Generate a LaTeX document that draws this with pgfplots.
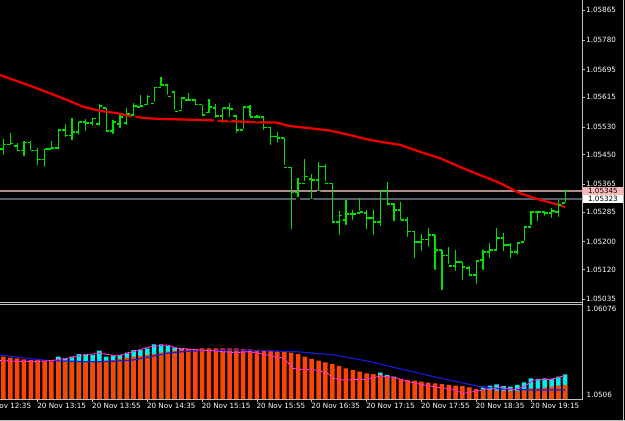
\documentclass[border=0pt]{standalone}
\usepackage{pgfplots}
\pgfplotsset{compat=1.18}
\usepackage{pgfplotstable}
\usepackage{fontspec}
\setmainfont{DejaVu Sans}
\definecolor{barg}{RGB}{0,225,0}
\definecolor{mared}{RGB}{235,0,0}
\definecolor{ored}{RGB}{255,69,0}
\definecolor{aqua}{RGB}{0,240,240}
\definecolor{mtblue}{RGB}{25,25,210}
\definecolor{mtmag}{RGB}{255,0,255}
\definecolor{hlpink}{RGB}{175,140,140}
\definecolor{hlgray}{RGB}{85,95,105}
\definecolor{frame}{RGB}{190,190,190}
\definecolor{pinkbox}{RGB}{250,185,185}
\pgfdeclareplotmark{otick}{\pgfpathmoveto{\pgfqpoint{-3pt}{0pt}}\pgfpathlineto{\pgfqpoint{0pt}{0pt}}\pgfusepathqstroke}
\pgfdeclareplotmark{ctick}{\pgfpathmoveto{\pgfqpoint{0pt}{0pt}}\pgfpathlineto{\pgfqpoint{3pt}{0pt}}\pgfusepathqstroke}
\newcommand{\lbl}{\fontsize{7.2}{8.6}\selectfont}

\pgfplotstableread{
i O H L C
0 1.05466 1.05495 1.05443 1.05478
1 1.05478 1.05512 1.05472 1.05483
2 1.05475 1.05483 1.05455 1.05463
3 1.05463 1.05489 1.05440 1.05486
4 1.05486 1.05489 1.05458 1.05463
5 1.05463 1.05469 1.05414 1.05437
6 1.05437 1.05466 1.05409 1.05466
7 1.05466 1.05489 1.05460 1.05469
8 1.05469 1.05521 1.05458 1.05521
9 1.05521 1.05538 1.05495 1.05506
10 1.05504 1.05555 1.05486 1.05515
11 1.05515 1.05544 1.05501 1.05544
12 1.05544 1.05552 1.05512 1.05541
13 1.05541 1.05555 1.05527 1.05555
14 1.05538 1.05596 1.05527 1.05590
15 1.05584 1.05584 1.05515 1.05518
16 1.05518 1.05550 1.05504 1.05544
17 1.05538 1.05564 1.05521 1.05558
18 1.05541 1.05584 1.05529 1.05567
19 1.05564 1.05598 1.05555 1.05590
20 1.05587 1.05621 1.05584 1.05590
21 1.05593 1.05621 1.05587 1.05616
22 1.05598 1.05644 1.05596 1.05644
23 1.05644 1.05673 1.05642 1.05650
24 1.05650 1.05650 1.05616 1.05616
25 1.05630 1.05633 1.05573 1.05573
26 1.05578 1.05616 1.05575 1.05613
27 1.05607 1.05627 1.05598 1.05607
28 1.05607 1.05610 1.05587 1.05593
29 1.05593 1.05593 1.05558 1.05564
30 1.05570 1.05610 1.05564 1.05587
31 1.05584 1.05596 1.05550 1.05561
32 1.05561 1.05584 1.05535 1.05584
33 1.05584 1.05598 1.05552 1.05581
34 1.05561 1.05564 1.05506 1.05521
35 1.05521 1.05590 1.05518 1.05587
36 1.05587 1.05593 1.05555 1.05558
37 1.05558 1.05564 1.05550 1.05558
38 1.05558 1.05558 1.05515 1.05527
39 1.05527 1.05529 1.05472 1.05501
40 1.05501 1.05515 1.05478 1.05498
41 1.05498 1.05498 1.05414 1.05414
42 1.05414 1.05414 1.05230 1.05340
43 1.05340 1.05383 1.05322 1.05368
44 1.05368 1.05437 1.05368 1.05386
45 1.05380 1.05394 1.05317 1.05377
46 1.05377 1.05429 1.05340 1.05417
47 1.05417 1.05423 1.05368 1.05368
48 1.05368 1.05368 1.05253 1.05256
49 1.05256 1.05288 1.05213 1.05276
50 1.05262 1.05320 1.05242 1.05279
51 1.05279 1.05291 1.05256 1.05279
52 1.05282 1.05325 1.05282 1.05285
53 1.05282 1.05291 1.05230 1.05268
54 1.05268 1.05291 1.05213 1.05256
55 1.05256 1.05348 1.05239 1.05348
56 1.05348 1.05371 1.05297 1.05308
57 1.05308 1.05311 1.05253 1.05291
58 1.05291 1.05314 1.05256 1.05262
59 1.05262 1.05271 1.05207 1.05228
60 1.05228 1.05228 1.05147 1.05199
61 1.05199 1.05222 1.05167 1.05205
62 1.05205 1.05239 1.05179 1.05219
63 1.05219 1.05219 1.05113 1.05176
64 1.05176 1.05176 1.05055 1.05159
65 1.05159 1.05184 1.05130 1.05130
66 1.05130 1.05176 1.05110 1.05141
67 1.05141 1.05141 1.05084 1.05127
68 1.05124 1.05130 1.05098 1.05104
69 1.05104 1.05147 1.05072 1.05144
70 1.05147 1.05176 1.05113 1.05170
71 1.05170 1.05196 1.05147 1.05176
72 1.05176 1.05239 1.05170 1.05210
73 1.05210 1.05225 1.05167 1.05190
74 1.05190 1.05196 1.05147 1.05170
75 1.05170 1.05199 1.05156 1.05196
76 1.05199 1.05242 1.05196 1.05242
77 1.05242 1.05288 1.05242 1.05285
78 1.05285 1.05288 1.05253 1.05285
79 1.05285 1.05288 1.05268 1.05282
80 1.05282 1.05297 1.05262 1.05288
81 1.05285 1.05320 1.05265 1.05305
82 1.05311 1.05348 1.05308 1.05345
}\bars

\pgfplotstableread{
i v
-0.5 1.05679
4.3 1.05645
6.8 1.05626
9.3 1.05607
11.6 1.05588
14.1 1.05576
16.6 1.05569
18.9 1.05559
21.4 1.05554
23.9 1.05552
28.7 1.05550
30.9 1.05548
34.5 1.05545
37.4 1.05543
39.9 1.05542
41.8 1.05532
44.7 1.05526
47.7 1.05519
50.6 1.05506
53.5 1.05492
55 1.05487
57.9 1.05478
60.8 1.05458
63.7 1.05440
66.6 1.05415
69.6 1.05391
72.5 1.05368
75.4 1.05339
78.3 1.05320
81.2 1.05305
82 1.05300
}\ma

\pgfplotstableread{
i v
0 1.05512
1 1.05502
2 1.05495
3 1.05485
4 1.05477
5 1.05477
6 1.05466
7 1.05466
8 1.05466
9 1.05466
10 1.05459
11 1.05459
12 1.05453
13 1.05459
14 1.05459
15 1.05470
16 1.05477
17 1.05488
18 1.05502
19 1.05512
20 1.05520
21 1.05531
22 1.05541
23 1.05555
24 1.05566
25 1.05577
26 1.05592
27 1.05595
28 1.05595
29 1.05602
30 1.05602
31 1.05602
32 1.05602
33 1.05602
34 1.05602
35 1.05595
36 1.05592
37 1.05584
38 1.05577
39 1.05573
40 1.05570
41 1.05566
42 1.05555
43 1.05541
44 1.05512
45 1.05488
46 1.05470
47 1.05453
48 1.05434
49 1.05413
50 1.05388
51 1.05370
52 1.05352
53 1.05335
54 1.05327
55 1.05317
56 1.05306
57 1.05292
58 1.05274
59 1.05263
60 1.05256
61 1.05245
62 1.05234
63 1.05228
64 1.05220
65 1.05210
66 1.05202
67 1.05199
68 1.05185
69 1.05167
70 1.05164
71 1.05156
72 1.05149
73 1.05149
74 1.05146
75 1.05146
76 1.05156
77 1.05174
78 1.05174
79 1.05181
80 1.05192
81 1.05202
82 1.05210
}\orng

\pgfplotstableread{
i v
8 1.05512
9 1.05495
10 1.05512
11 1.05541
12 1.05541
13 1.05531
14 1.05577
15 1.05512
16 1.05523
17 1.05531
18 1.05555
19 1.05584
20 1.05584
21 1.05602
22 1.05645
23 1.05645
24 1.05630
25 1.05613
26 1.05602
55 1.05341
56 1.05317
57 1.05299
70 1.05192
71 1.05202
72 1.05217
73 1.05199
74 1.05192
75 1.05210
76 1.05239
77 1.05281
78 1.05274
79 1.05281
80 1.05274
81 1.05299
82 1.05324
}\aq

\pgfplotstableread{
i v
-0.5 1.05531
4.3 1.05488
6.8 1.05470
9.3 1.05466
11.6 1.05459
14.1 1.05459
16.6 1.05466
18.9 1.05477
21.4 1.05512
23.9 1.05549
26.2 1.05566
28.7 1.05577
33.6 1.05584
38.5 1.05577
40.9 1.05570
43.3 1.05563
48.2 1.05531
53.1 1.05466
58 1.05381
62.8 1.05299
67.8 1.05220
70.1 1.05185
72.6 1.05167
77.4 1.05156
82 1.05156
}\bl

\pgfplotstableread{
i v
-0.5 1.05470
4.3 1.05459
6.8 1.05470
9.3 1.05495
11.6 1.05531
14.1 1.05549
16.6 1.05520
18.9 1.05566
21.4 1.05619
23.9 1.05638
25.4 1.05602
26.8 1.05595
28.7 1.05584
31.2 1.05573
33.6 1.05555
36 1.05566
38.5 1.05531
40.9 1.05495
42.3 1.05388
43.3 1.05378
45.8 1.05370
47.3 1.05335
48.2 1.05281
49.6 1.05263
53.1 1.05271
55 1.05306
57 1.05292
59 1.05245
60.9 1.05217
62.8 1.05192
65.3 1.05167
67.2 1.05121
68.6 1.05138
70.7 1.05167
72.6 1.05185
74.5 1.05156
76 1.05192
77.4 1.05263
79.9 1.05271
82 1.05309
}\thin

\begin{document}
\begin{tikzpicture}[x=1pt,y=1pt]
\fill[black] (0,0) rectangle (625,-421);
\path[use as bounding box] (0,0) rectangle (625,-421);
\clip (0,0) rectangle (625,-421);

% ---------- main price panel ----------
\begin{axis}[
  at={(0pt,0pt)}, anchor=north west, scale only axis,
  width=582.5pt, height=301pt,
  xmin=-0.5028, xmax=84.52, ymin=1.050291, ymax=1.058946,
  axis line style={draw=none},
  xtick=\empty,
  ytick={1.05035,1.05120,1.05200,1.05285,1.05365,1.05450,1.05530,1.05615,1.05695,1.05780,1.05865},
  yticklabels={1.05035,1.05120,1.05200,1.05285,1.05365,1.05450,1.05530,1.05615,1.05695,1.05780,1.05865},
  ytick pos=right, yticklabel pos=right,
  tick align=outside, major tick length=2.5pt,
  tick style={draw=frame, line width=0.6pt},
  yticklabel style={font=\lbl, text=white, inner sep=0pt, xshift=1pt},
  scaled y ticks=false,
]
\addplot[hlpink, line width=1.5pt] coordinates {(-1,1.05345) (85,1.05345)};
\addplot[hlgray, line width=1.5pt] coordinates {(-1,1.05323) (85,1.05323)};
\addplot[only marks, mark=none, error bars/.cd, y dir=plus, y explicit, error mark=none,
  error bar style={draw=barg, line width=1.2pt}]
  table[x=i, y=L, y error expr=\thisrow{H}-\thisrow{L}] {\bars};
\addplot[only marks, mark=otick, mark options={draw=barg, line width=1.2pt}] table[x=i, y=O] {\bars};
\addplot[only marks, mark=ctick, mark options={draw=barg, line width=1.2pt}] table[x=i, y=C] {\bars};
\addplot[mared, line width=2.3pt] table[x=i, y=v] {\ma};
\coordinate (pa) at (axis cs:84.52,1.05345);
\coordinate (pb) at (axis cs:84.52,1.05323);
\end{axis}

\node[fill=pinkbox, text=black, font=\lbl, anchor=west, minimum width=40.5pt, minimum height=8pt, inner sep=0pt] at (pa) {1.05345};
\node[fill=white, text=black, font=\lbl, anchor=west, minimum width=40.5pt, minimum height=8pt, inner sep=0pt] at (pb) {1.05323};

% ---------- indicator panel ----------
\begin{axis}[
  at={(-18.478pt,-304pt)}, anchor=north west, scale only axis,
  width=600.98pt, height=95pt,
  xmin=-3.2, xmax=84.52, ymin=1.0506, ymax=1.06076,
  axis line style={draw=none},
  xtick={-3,5,13,21,29,37,45,53,61,69,77},
  xticklabels={20 Nov 12:35,20 Nov 13:15,20 Nov 13:55,20 Nov 14:35,20 Nov 15:15,20 Nov 15:55,20 Nov 16:35,20 Nov 17:15,20 Nov 17:55,20 Nov 18:35,20 Nov 19:15},
  xtick pos=bottom, xticklabel pos=bottom,
  tick align=outside, major tick length=3pt,
  x tick style={draw=frame, line width=0.6pt},
  y tick style={draw=none},
  xticklabel style={font=\lbl, text=white, anchor=north west, inner sep=0pt, xshift=-0.5pt, yshift=-1pt},
  ytick={1.06076}, yticklabels={1.06076},
  extra y ticks={1.0506}, extra y tick labels={1.0506},
  ytick pos=right, yticklabel pos=right,
  yticklabel style={font=\lbl, text=white, anchor=north west, inner sep=0pt, xshift=1pt, yshift=-2pt},
  extra y tick style={yticklabel style={anchor=south west, yshift=3.5pt}},
  scaled y ticks=false,
]
\addplot[ybar, bar width=4.5pt, bar shift=0pt, fill=aqua, draw=none] table[x=i, y=v] {\aq};
\addplot[ybar, bar width=4.5pt, bar shift=0pt, fill=ored, draw=none] table[x=i, y=v] {\orng};
\addplot[mtblue, line width=1.2pt] table[x=i, y=v] {\bl};
\addplot[mtmag, line width=0.9pt] table[x=i, y=v] {\thin};
\addplot[yellow, line width=0.5pt, dash pattern=on 1pt off 2.5pt] table[x=i, y=v] {\thin};
\end{axis}

% ---------- frame lines ----------
\draw[frame, line width=0.8pt] (582.5,0) -- (582.5,-399);
\draw[frame, line width=0.8pt] (0,-399) -- (582.5,-399);
\draw[frame, line width=0.8pt] (0,-302) -- (582.5,-302);
\draw[frame, line width=0.8pt] (0,-304.2) -- (582.5,-304.2);
\draw[frame, line width=1pt] (623.5,0) -- (623.5,-421);
\draw[frame, line width=1pt] (0,-420) -- (625,-420);
\end{tikzpicture}
\end{document}
